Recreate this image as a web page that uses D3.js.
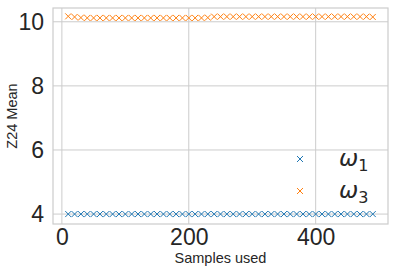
<!DOCTYPE html>
<html>
<head>
<meta charset="utf-8">
<script src="https://cdn.jsdelivr.net/npm/d3@7"></script>
<style>
body { margin: 0; background: #fff; }
text { font-family: "Liberation Sans", Arial, sans-serif; fill: #262626; }
</style>
</head>
<body>
<div id="chart"></div>
<script>
// samples used: 10, 20, ... 490
const samples = [10,20,30,40,50,60,70,80,90,100,110,120,130,140,150,160,170,180,190,200,
	210,220,230,240,250,260,270,280,290,300,310,320,330,340,350,360,370,380,390,400,
	410,420,430,440,450,460,470,480,490];
const omega1 = [4.00,4.00,4.00,4.00,4.00,4.00,4.00,4.00,4.00,4.00,4.00,4.00,4.00,4.00,4.00,4.00,4.00,4.00,4.00,4.00,
	4.00,4.00,4.00,4.00,4.00,4.00,4.00,4.00,4.00,4.00,4.00,4.00,4.00,4.00,4.00,4.00,4.00,4.00,4.00,4.00,
	4.00,4.00,4.00,4.00,4.00,4.00,4.00,4.00,4.00];
const omega3 = [10.17,10.15,10.13,10.12,10.12,10.12,10.12,10.12,10.12,10.12,10.12,10.12,10.12,10.12,10.12,10.12,10.12,10.12,10.12,10.12,
	10.12,10.12,10.13,10.16,10.16,10.16,10.16,10.16,10.16,10.16,10.16,10.16,10.16,10.16,10.16,10.16,10.16,10.16,10.16,10.16,
	10.16,10.16,10.16,10.16,10.16,10.16,10.16,10.16,10.15];
const xTicks = [0, 200, 400];
const yTicks = [4, 6, 8, 10];
const seriesNames = ["1", "3"];
const colors = ["#1f77b4", "#ff7f0e"];

const width = 395, height = 273;
const margin = { top: 8, right: 7, bottom: 49, left: 53 };

const svg = d3.select("#chart").append("svg")
	.attr("width", width)
	.attr("height", height);

const x = d3.scaleLinear().domain([-14, 514]).range([margin.left, width - margin.right]);
const y = d3.scaleLinear().domain([3.69, 10.43]).range([height - margin.bottom, margin.top]);

// grid
svg.append("g").selectAll("line")
	.data(xTicks)
	.join("line")
	.attr("x1", d => x(d)).attr("x2", d => x(d))
	.attr("y1", margin.top).attr("y2", height - margin.bottom)
	.attr("stroke", "#cccccc").attr("stroke-width", 1);
svg.append("g").selectAll("line")
	.data(yTicks)
	.join("line")
	.attr("x1", margin.left).attr("x2", width - margin.right)
	.attr("y1", d => y(d)).attr("y2", d => y(d))
	.attr("stroke", "#cccccc").attr("stroke-width", 1);

// frame
svg.append("rect")
	.attr("x", margin.left).attr("y", margin.top)
	.attr("width", width - margin.left - margin.right)
	.attr("height", height - margin.top - margin.bottom)
	.attr("fill", "none").attr("stroke", "#cccccc").attr("stroke-width", 1.2);

// axes labels
const xAxis = svg.append("g")
	.attr("transform", `translate(0,${height - margin.bottom})`)
	.call(d3.axisBottom(x).tickValues(xTicks).tickFormat(d3.format("d")).tickSize(0).tickPadding(5));
xAxis.select(".domain").remove();
xAxis.selectAll("text").style("font-size", "23px").attr("fill", "#262626");

const yAxis = svg.append("g")
	.attr("transform", `translate(${margin.left},0)`)
	.call(d3.axisLeft(y).tickValues(yTicks).tickFormat(d3.format("d")).tickSize(0).tickPadding(9));
yAxis.select(".domain").remove();
yAxis.selectAll("text").style("font-size", "23px").attr("fill", "#262626");

svg.append("text")
	.attr("x", x(250)).attr("y", 263)
	.attr("text-anchor", "middle")
	.style("font-size", "14.5px")
	.text("Samples used");

svg.append("text")
	.attr("transform", `translate(17,${(margin.top + height - margin.bottom) / 2}) rotate(-90)`)
	.attr("text-anchor", "middle")
	.style("font-size", "14.5px")
	.text("Z24 Mean");

// markers
function cross(g, cx, cy, color) {
	const s = 3;
	g.append("path")
		.attr("d", `M${cx - s},${cy - s}L${cx + s},${cy + s}M${cx - s},${cy + s}L${cx + s},${cy - s}`)
		.attr("stroke", color).attr("stroke-width", 1).attr("fill", "none");
}

[omega1, omega3].forEach(function (vals, i) {
	const g = svg.append("g");
	vals.forEach(function (v, j) {
		cross(g, x(samples[j]), y(v), colors[i]);
	});
});

// legend
const legend = svg.append("g");
seriesNames.forEach(function (name, i) {
	const ly = 159 + i * 32;
	cross(legend, 300, ly, colors[i]);
	const t = legend.append("text")
		.attr("x", 339).attr("y", ly + 7)
		.style("font-family", "'DejaVu Sans', sans-serif")
		.style("font-size", "23px");
	t.append("tspan").style("font-style", "italic").text("ω");
	t.append("tspan").attr("dy", 5).style("font-size", "16px").text(name);
});
</script>
</body>
</html>
